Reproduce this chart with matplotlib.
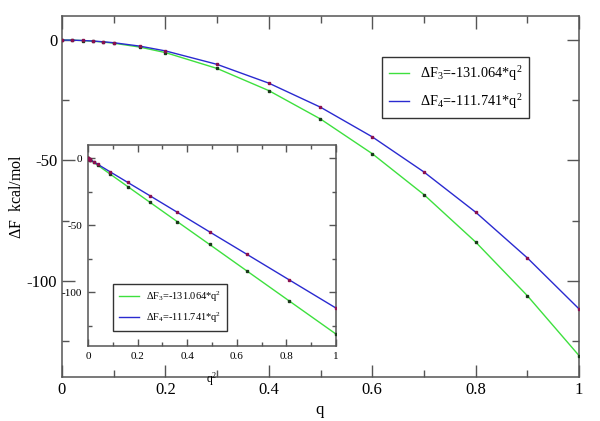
import matplotlib
matplotlib.use("Agg")
import matplotlib.pyplot as plt
from matplotlib.ticker import MultipleLocator
import numpy as np

plt.rcParams['font.family'] = ['Liberation Serif', 'DejaVu Serif']
plt.rcParams['mathtext.fontset'] = 'custom'
plt.rcParams['mathtext.rm'] = 'Liberation Serif'
plt.rcParams['mathtext.it'] = 'Liberation Serif:italic'
plt.rcParams['axes.unicode_minus'] = False

# data
q = [0.0, 0.02, 0.04, 0.06, 0.08, 0.1, 0.15, 0.2, 0.3, 0.4, 0.5, 0.6, 0.7, 0.8, 0.9, 1.0]
dF3 = [0.0, -0.05, -0.21, -0.47, -0.84, -1.3, -2.9, -5.2, -11.8, -21.0, -32.8,
       -47.2, -64.2, -83.9, -106.2, -131.1]
dF4 = [0.0, -0.04, -0.18, -0.40, -0.72, -1.1, -2.5, -4.5, -10.1, -17.9, -27.9,
       -40.2, -54.8, -71.5, -90.5, -111.7]
q2 = [v * v for v in q]
label3 = r'$\Delta$F$_3$=-131.064*q$^2$'
label4 = r'$\Delta$F$_4$=-111.741*q$^2$'

green = '#3ee03e'
blue = '#2a2ad0'
spine = '#555555'

W, H = 600, 421
fig = plt.figure(figsize=(6, 4.21), dpi=100)

def fx(px):
    return px / W

def fy(py):
    return 1 - py / H

ax = fig.add_axes([fx(62), fy(377), fx(579) - fx(62), fy(16) - fy(377)])
ax.plot(q, dF3, color=green, lw=1.0, label=label3, zorder=2)
ax.plot(q, dF4, color=blue, lw=1.0, label=label4, zorder=2)
ax.plot(q, dF3, ls='none', marker='s', ms=2.0, color='#1a3a1a', zorder=3)
ax.plot(q, dF4, ls='none', marker='s', ms=2.0, color='#8a1050', zorder=3)
ax.set_xlim(0, 1)
ax.set_ylim(-140, 10)
ax.xaxis.set_major_locator(MultipleLocator(0.2))
ax.xaxis.set_minor_locator(MultipleLocator(0.1))
ax.yaxis.set_major_locator(MultipleLocator(50))
ax.yaxis.set_minor_locator(MultipleLocator(25))
ax.set_xticks([0, 0.2, 0.4, 0.6, 0.8, 1.0])
ax.set_xticklabels(['0', '0.2', '0.4', '0.6', '0.8', '1'])
ax.tick_params(which='both', direction='in', top=True, right=True, color=spine,
               labelsize=12)
ax.tick_params(which='major', length=9, width=1, pad=3.5)
ax.tick_params(which='minor', length=5, width=1)
for s in ax.spines.values():
    s.set_color(spine)
    s.set_linewidth(1.1)
ax.set_xlabel('q', fontsize=12)
ax.xaxis.set_label_coords((320 - 62) / 517, -(402 - 377) / 361)
ax.set_ylabel(r'$\Delta$F  kcal/mol', fontsize=11.5)
ax.yaxis.set_label_coords(-(62 - 25) / 517, (377 - 197) / 361)

leg = ax.legend(loc='upper left', bbox_to_anchor=(fx(382), fy(57)),
                bbox_transform=fig.transFigure, fontsize=10.3, frameon=True,
                fancybox=False, edgecolor='black', handlelength=1.4,
                handletextpad=0.75, borderpad=0.5, labelspacing=0.6,
                borderaxespad=0)
leg.get_frame().set_linewidth(1.0)

# inset
ins = fig.add_axes([fx(88), fy(346), fx(336) - fx(88), fy(145) - fy(346)])
ins.set_facecolor('white')
ins.plot(q2, dF3, color=green, lw=1.0, label=label3, zorder=2)
ins.plot(q2, dF4, color=blue, lw=1.0, label=label4, zorder=2)
ins.plot(q2, dF3, ls='none', marker='s', ms=1.8, color='#1a3a1a', zorder=3)
ins.plot(q2, dF4, ls='none', marker='s', ms=1.8, color='#8a1050', zorder=3)
ins.set_xlim(0, 1)
ins.set_ylim(-140, 10)
ins.xaxis.set_major_locator(MultipleLocator(0.2))
ins.xaxis.set_minor_locator(MultipleLocator(0.1))
ins.yaxis.set_major_locator(MultipleLocator(50))
ins.yaxis.set_minor_locator(MultipleLocator(25))
ins.set_xticks([0, 0.2, 0.4, 0.6, 0.8, 1.0])
ins.set_xticklabels(['0', '0.2', '0.4', '0.6', '0.8', '1'])
ins.tick_params(which='both', direction='in', top=True, right=True, color=spine,
                labelsize=8)
ins.tick_params(which='major', length=5, width=1, pad=4)
ins.tick_params(which='minor', length=3, width=1)
for s in ins.spines.values():
    s.set_color(spine)
    s.set_linewidth(1.1)
ins.set_xlabel('q$^2$', fontsize=8.5)
ins.xaxis.set_label_coords((212 - 88) / 248, -(370 - 346) / 201)

leg2 = ins.legend(loc='upper left', bbox_to_anchor=(fx(113), fy(284)),
                  bbox_transform=fig.transFigure, fontsize=7.5, frameon=True,
                  fancybox=False, edgecolor='black', handlelength=1.9,
                  handletextpad=0.75, borderpad=0.55, labelspacing=0.6,
                  borderaxespad=0)
leg2.get_frame().set_linewidth(1.0)

fig.savefig('out.png', dpi=100)
